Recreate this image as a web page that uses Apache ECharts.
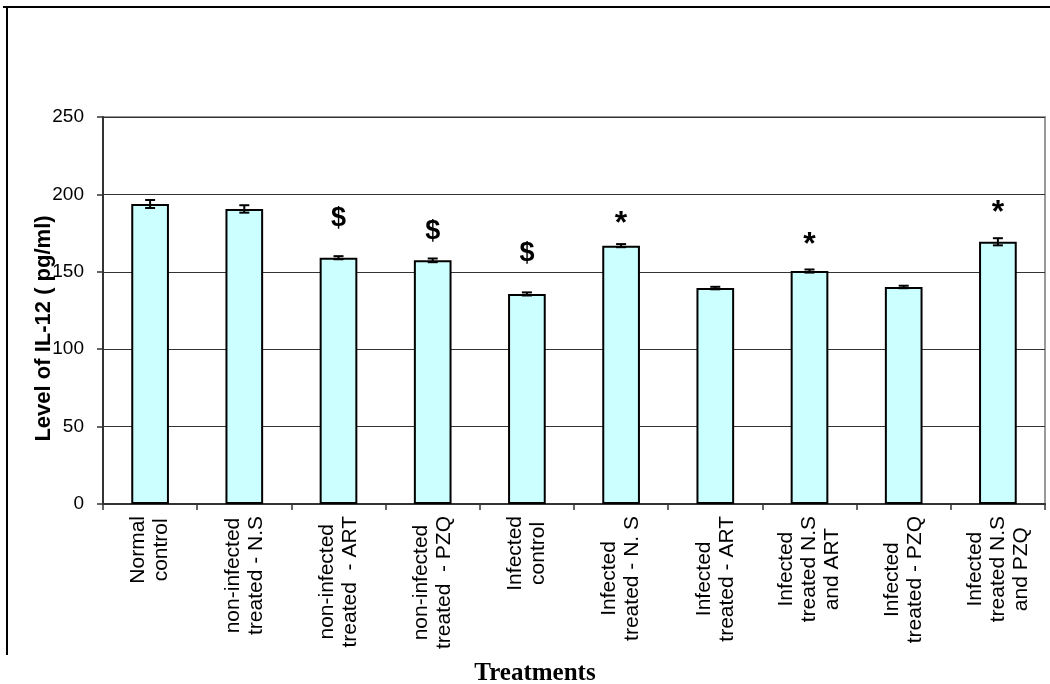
<!DOCTYPE html>
<html>
<head>
<meta charset="utf-8">
<script src="https://cdn.jsdelivr.net/npm/echarts@6/dist/echarts.min.js"></script>
<style>
  html, body { margin: 0; padding: 0; background: #fff; }
  #chart { width: 1050px; height: 684px; }
</style>
</head>
<body>
<div id="chart"></div>
<script>
// Treatment groups (line breaks as shown under each bar)
const categories = [
  'Normal\ncontrol',
  'non-infected\ntreated - N.S',
  'non-infected\ntreated  - ART',
  'non-infected\ntreated  - PZQ',
  'Infected\ncontrol',
  'Infected\ntreated - N. S',
  'Infected\ntreated - ART',
  'Infected\ntreated N.S\nand ART',
  'Infected\ntreated - PZQ',
  'Infected\ntreated N.S\nand PZQ'
];

// Mean IL-12 level (pg/ml) and its standard error
const il12Mean = [193.8, 190.6, 159.1, 157.4, 135.7, 166.9, 139.5, 150.5, 140.2, 169.4];
const il12Err  = [2.6, 2.4, 1.0, 1.2, 1.0, 1.0, 0.8, 1.0, 0.8, 2.3];

// Significance marks and the level at which each one sits
const sigMarks  = ['', '', '$', '$', '$', '*', '', '*', '', '*'];
const sigLevels = [null, null, 184.1, 175.7, 162.1, 186.7, null, 173.1, null, 193.8];

const yTicks = [0, 50, 100, 150, 200, 250];

const FONT = 'Liberation Sans, Arial, sans-serif';
const chart = echarts.init(document.getElementById('chart'), null, { renderer: 'canvas' });

const errData = il12Mean.map((v, i) => [i, v - il12Err[i], v + il12Err[i]]);
const sigData = [];
sigMarks.forEach((m, i) => {
  if (!m) return;
  sigData.push({
    value: [i, sigLevels[i]],
    mark: m,
    label: m === '$'
      ? { fontSize: 27, offset: [0, 0] }
      : { fontSize: 32, offset: [0, 9] }
  });
});

chart.setOption({
  animation: false,
  backgroundColor: '#ffffff',
  grid: { left: 103, right: 5, top: 117, bottom: 180, show: true, borderColor: '#999999', borderWidth: 2 },
  xAxis: {
    type: 'category',
    data: categories,
    axisLine: { lineStyle: { color: '#333333', width: 2 } },
    axisTick: { show: true, length: 6, lineStyle: { color: '#333333', width: 1.5 } },
    axisLabel: {
      rotate: 90,
      margin: 12,
      interval: 0,
      fontFamily: FONT,
      fontSize: 21,
      lineHeight: 23,
      color: '#000',
      formatter: v => v.split('\n').map(s => '{c|' + s + '}').join('\n'),
      rich: { c: { align: 'center', fontSize: 21, lineHeight: 23, fontFamily: FONT, color: '#000' } }
    }
  },
  yAxis: {
    type: 'value',
    min: yTicks[0],
    max: yTicks[yTicks.length - 1],
    interval: 50,
    name: 'Level of IL-12 ( pg/ml)',
    nameLocation: 'middle',
    nameGap: 48,
    nameMoveOverlap: false,
    nameTextStyle: {
      fontFamily: FONT,
      fontWeight: 'bold',
      fontSize: 22,
      color: '#000',
      padding: [0, 36, 0, 0]
    },
    axisLine: { show: true, lineStyle: { color: '#333333', width: 2 } },
    axisTick: { show: true, length: 6, lineStyle: { color: '#333333', width: 1.5 } },
    axisLabel: { margin: 19, fontFamily: FONT, fontSize: 19, color: '#000' },
    splitLine: { show: true, lineStyle: { color: '#333333', width: 1 } }
  },
  series: [
    {
      type: 'bar',
      data: il12Mean,
      barWidth: '40%',
      itemStyle: { color: '#CCFFFF', borderColor: '#000000', borderWidth: 2 },
      z: 2
    },
    {
      type: 'custom',
      data: errData,
      z: 5,
      renderItem: (params, api) => {
        const x = api.value(0);
        const lo = api.coord([x, api.value(1)]);
        const hi = api.coord([x, api.value(2)]);
        const cap = 5;
        const style = { stroke: '#000', lineWidth: 2 };
        return {
          type: 'group',
          children: [
            { type: 'line', shape: { x1: lo[0], y1: lo[1], x2: hi[0], y2: hi[1] }, style },
            { type: 'line', shape: { x1: hi[0] - cap, y1: hi[1], x2: hi[0] + cap, y2: hi[1] }, style },
            { type: 'line', shape: { x1: lo[0] - cap, y1: lo[1], x2: lo[0] + cap, y2: lo[1] }, style }
          ]
        };
      }
    },
    {
      type: 'scatter',
      data: sigData,
      symbolSize: 0,
      itemStyle: { opacity: 1 },
      z: 6,
      label: {
        show: true,
        position: 'inside',
        color: '#000',
        fontWeight: 'bold',
        fontFamily: FONT,
        formatter: p => p.data.mark
      },
      encode: { x: 0, y: 1 }
    }
  ],
  graphic: [
    { type: 'line', shape: { x1: 3, y1: 7, x2: 1050, y2: 7 }, style: { stroke: '#000', lineWidth: 2 } },
    { type: 'line', shape: { x1: 7, y1: 7, x2: 7, y2: 655 }, style: { stroke: '#000', lineWidth: 2 } },
    {
      type: 'text',
      x: 535,
      y: 674,
      style: {
        text: 'Treatments',
        font: 'bold 25px "Liberation Serif", "Times New Roman", serif',
        fill: '#000',
        textAlign: 'center',
        textVerticalAlign: 'middle'
      }
    }
  ]
});
</script>
</body>
</html>
